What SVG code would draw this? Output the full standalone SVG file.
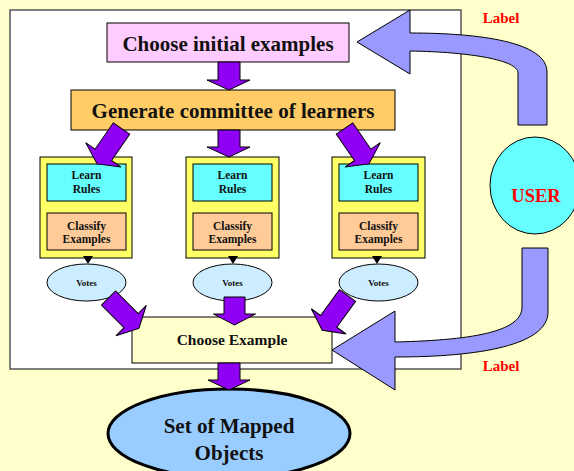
<svg xmlns="http://www.w3.org/2000/svg" xmlns:xlink="http://www.w3.org/1999/xlink" width="574" height="471" viewBox="0 0 574 471">
  <style>
    text { font-family: "Liberation Serif", "Times New Roman", serif; font-weight: bold; fill: #111; text-anchor: middle; }
    .box { stroke: #000; stroke-width: 1; }
    .big { font-size: 21px; }
    .small { font-size: 11.5px; }
    .votes { font-size: 9px; }
    .red { fill: #FF0000; }
    .purple { fill: #9000F5; stroke: #000; stroke-width: 1; stroke-linejoin: miter; }
    .blue { fill: #9999FF; stroke: #000; stroke-width: 1; }
    .learner { fill: #FFFF66; stroke: #000; stroke-width: 1; }
    .rules { fill: #66FFFF; stroke: #000; stroke-width: 1; }
    .classify { fill: #FFCC99; stroke: #000; stroke-width: 1; }
    .vote { fill: #CCECFF; stroke: #000; stroke-width: 1; }
  </style>
  <defs>
    <!-- block arrow pointing along +y, origin at the tail centre -->
    <path id="blk" d="M -10,0 L 10,0 L 10,32 L 21.5,32 L 0,43 L -21.5,32 L -10,32 Z"/>
  </defs>

  <!-- page background and process panel -->
  <rect x="0" y="0" width="574" height="471" fill="#FFFFCC"/>
  <rect id="panel" x="10" y="10" width="451" height="359" fill="#FFFFFF" stroke="#555" stroke-width="1.5"/>

  <g id="choose-initial">
    <rect class="box" x="107" y="23" width="242" height="39" fill="#FFCCFF"/>
    <text class="big" x="228" y="51">Choose initial examples</text>
  </g>

  <g id="generate">
    <rect class="box" x="71" y="90" width="324" height="40" fill="#FFCC66"/>
    <text class="big" x="233" y="118">Generate committee of learners</text>
  </g>

  <g id="learner-1">
    <rect class="learner" x="40" y="157" width="92" height="101"/>
    <rect class="rules" x="47" y="164" width="79" height="37"/>
    <text class="small" x="86.5" y="179">Learn</text>
    <text class="small" x="86.5" y="193">Rules</text>
    <rect class="classify" x="47" y="213" width="79" height="37"/>
    <text class="small" x="86.5" y="230">Classify</text>
    <text class="small" x="86.5" y="243">Examples</text>
  </g>
  <g id="learner-2">
    <rect class="learner" x="186" y="157" width="93" height="101"/>
    <rect class="rules" x="193" y="164" width="79" height="37"/>
    <text class="small" x="232.5" y="179">Learn</text>
    <text class="small" x="232.5" y="193">Rules</text>
    <rect class="classify" x="193" y="213" width="79" height="37"/>
    <text class="small" x="232.5" y="230">Classify</text>
    <text class="small" x="232.5" y="243">Examples</text>
  </g>
  <g id="learner-3">
    <rect class="learner" x="332" y="157" width="93" height="101"/>
    <rect class="rules" x="339" y="164" width="79" height="37"/>
    <text class="small" x="378.5" y="179">Learn</text>
    <text class="small" x="378.5" y="193">Rules</text>
    <rect class="classify" x="339" y="213" width="79" height="37"/>
    <text class="small" x="378.5" y="230">Classify</text>
    <text class="small" x="378.5" y="243">Examples</text>
  </g>

  <g id="votes-1">
    <ellipse class="vote" cx="86.5" cy="282.5" rx="39.5" ry="18.5"/>
    <text class="votes" x="86.5" y="285.5">Votes</text>
  </g>
  <g id="votes-2">
    <ellipse class="vote" cx="232.5" cy="282.5" rx="39.5" ry="18.5"/>
    <text class="votes" x="232.5" y="285.5">Votes</text>
  </g>
  <g id="votes-3">
    <ellipse class="vote" cx="378.5" cy="282.5" rx="39.5" ry="18.5"/>
    <text class="votes" x="378.5" y="285.5">Votes</text>
  </g>

  <g id="choose-example">
    <rect class="box" x="132" y="317" width="200" height="46" fill="#FFFFCC"/>
    <text x="232" y="345" font-size="15.5px">Choose Example</text>
  </g>

  <g id="mapped-objects">
    <ellipse cx="229" cy="433.5" rx="121" ry="44.5" fill="#99CCFF" stroke="#000" stroke-width="3"/>
    <text class="big" x="229" y="433">Set of Mapped</text>
    <text class="big" x="229" y="460">Objects</text>
  </g>

  <g id="user">
    <ellipse cx="535" cy="185.5" rx="45" ry="48.5" fill="#66FFFF" stroke="#000" stroke-width="1"/>
    <text class="red" x="536" y="202" font-size="18.5px">USER</text>
  </g>

  <g id="connectors">
    <!-- straight block arrows -->
    <path class="purple" d="M 218,62 L 240,62 L 240,80 L 250,80 L 229,90 L 207,80 L 218,80 Z"/>
    <path class="purple" d="M 218,130 L 240,130 L 240,147 L 250,147 L 229,157 L 207,147 L 218,147 Z"/>
    <path class="purple" d="M 224,297 L 245,297 L 245,314 L 255.5,314 L 234.5,325 L 213.5,314 L 224,314 Z"/>
    <path class="purple" d="M 218,363 L 240,363 L 240,380 L 250,380 L 229,390 L 208,380 L 218,380 Z"/>
    <!-- angled block arrows -->
    <use class="purple" xlink:href="#blk" transform="translate(121.5,128.5) rotate(34.6)"/>
    <use class="purple" xlink:href="#blk" transform="translate(344.5,128.5) rotate(-34.6)"/>
    <use class="purple" xlink:href="#blk" transform="translate(108.5,298) rotate(-45)"/>
    <use class="purple" xlink:href="#blk" transform="translate(347.5,295.5) rotate(36)"/>
    <!-- learner to votes -->
    <path d="M 83,256 L 93,256 L 88,264 Z" fill="#000"/>
    <path d="M 228,256 L 238,256 L 233,264 Z" fill="#000"/>
    <path d="M 372,256 L 382,256 L 377,264 Z" fill="#000"/>
    <!-- curved arrows to and from the user -->
    <path class="blue" d="M 410,33 C 480,33 547,42 547,72 L 547,125 L 518,125 L 518,73 C 518,60 470,52 410,51 L 410,74 L 357,42 L 410,10 Z"/>
    <path class="blue" d="M 548,248 L 548,312 C 548,345 480,357 395,357 L 395,390 L 332,350 L 395,311 L 395,342 C 480,340 522,330 522,307 L 522,248 Z"/>
    <text class="red" x="501" y="23" font-size="15px">Label</text>
    <text class="red" x="501" y="371" font-size="15px">Label</text>
  </g>
</svg>
